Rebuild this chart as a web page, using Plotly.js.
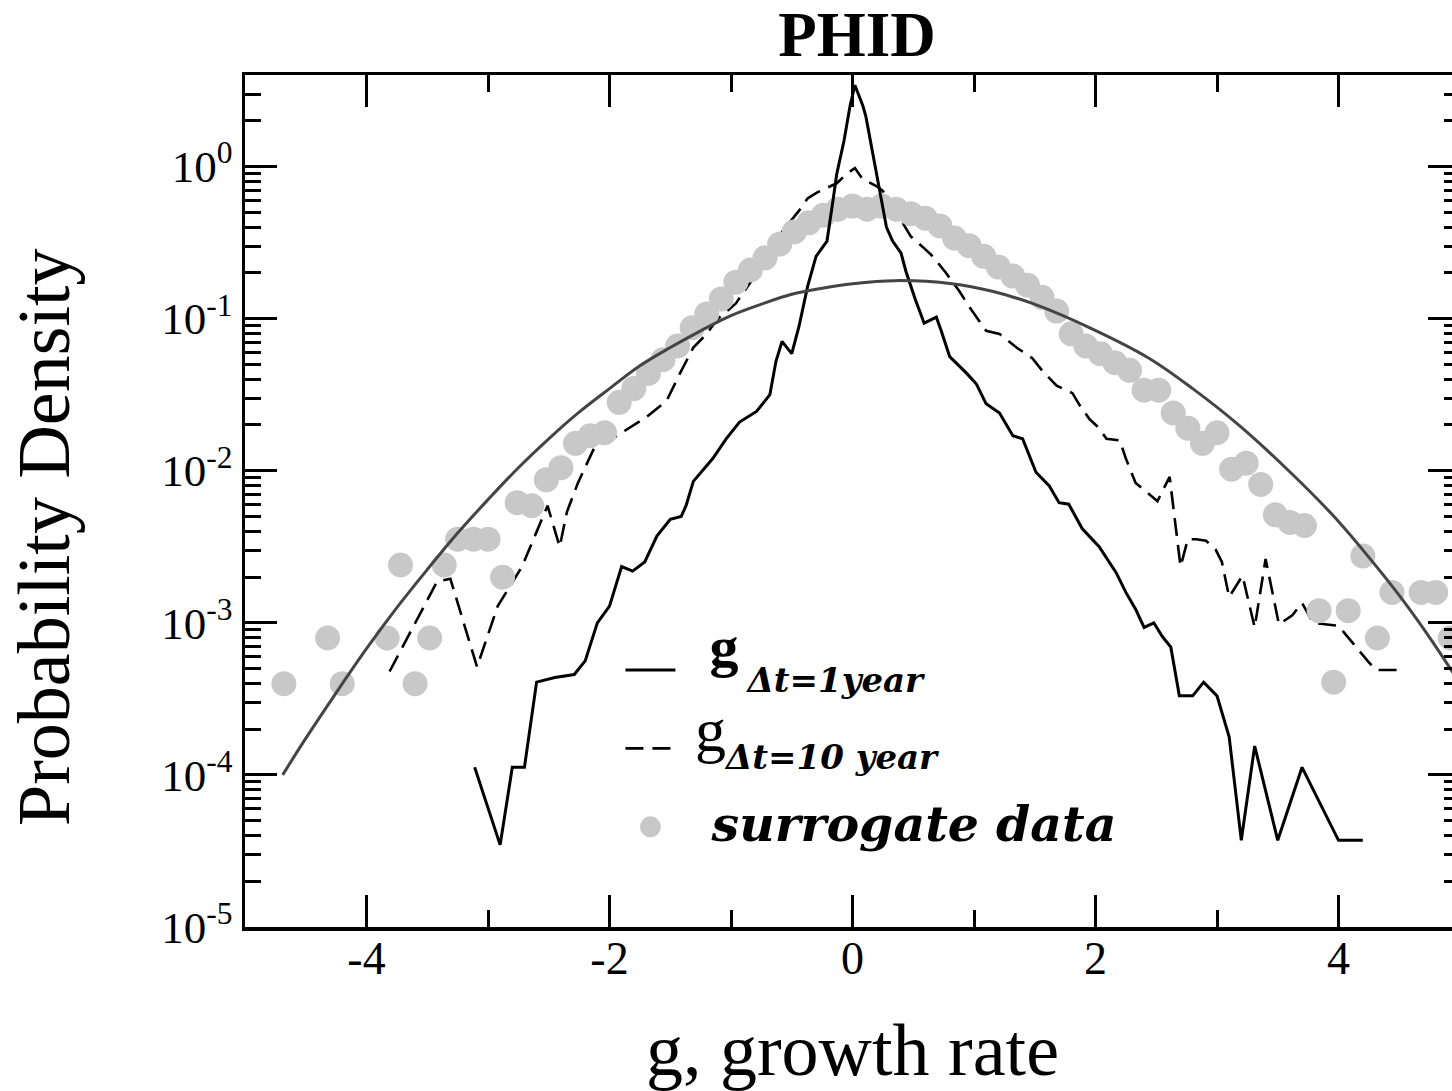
<!DOCTYPE html>
<html><head><meta charset="utf-8">
<script src="https://cdn.plot.ly/plotly-3.0.1.min.js"></script>
<style>html,body{margin:0;padding:0;overflow:hidden;background:#fff}#chart{width:1470px;height:1091px}</style>
</head><body><div id="chart"></div>
<script>
// ---- data (y given as log10 of probability density) ----
const oneYearX = [-3.11,-2.90,-2.80,-2.70,-2.60,-2.45,-2.29,-2.20,-2.10,-2.00,-1.90,-1.81,-1.71,-1.61,-1.50,-1.41,-1.37,-1.31,-1.15,-1.04,-0.93,-0.79,-0.68,-0.63,-0.58,-0.50,-0.44,-0.37,-0.30,-0.21,-0.16,-0.13,-0.07,-0.02,0.02,0.085,0.11,0.17,0.22,0.28,0.33,0.40,0.44,0.52,0.59,0.69,0.73,0.80,0.94,1.02,1.10,1.21,1.32,1.40,1.51,1.62,1.70,1.78,1.89,2.03,2.17,2.25,2.33,2.40,2.48,2.55,2.62,2.69,2.80,2.89,3.00,3.10,3.20,3.31,3.50,3.70,4.00,4.20];
const oneYearLog = [-3.95,-4.46,-3.95,-3.95,-3.39,-3.36,-3.34,-3.25,-3.00,-2.89,-2.63,-2.66,-2.60,-2.43,-2.32,-2.30,-2.23,-2.07,-1.92,-1.79,-1.68,-1.61,-1.50,-1.28,-1.15,-1.23,-1.05,-0.79,-0.59,-0.49,-0.22,-0.05,0.17,0.40,0.535,0.40,0.33,0.07,-0.13,-0.40,-0.49,-0.57,-0.69,-0.88,-1.03,-0.99,-1.08,-1.25,-1.36,-1.43,-1.56,-1.62,-1.77,-1.79,-2.01,-2.10,-2.21,-2.22,-2.38,-2.50,-2.67,-2.80,-2.91,-3.03,-3.00,-3.09,-3.16,-3.48,-3.48,-3.39,-3.48,-3.75,-4.43,-3.81,-4.43,-3.95,-4.43,-4.43];

const tenYearX = [-3.81,-3.42,-3.31,-3.09,-2.92,-2.72,-2.51,-2.41,-2.35,-2.26,-2.12,-1.98,-1.70,-1.53,-1.42,-1.31,-1.20,-1.12,-0.96,-0.80,-0.70,-0.58,-0.44,-0.37,-0.29,-0.13,-0.05,0.02,0.08,0.20,0.25,0.36,0.48,0.58,0.66,0.77,0.88,0.96,1.10,1.21,1.35,1.48,1.57,1.68,1.81,1.87,1.95,2.03,2.09,2.20,2.25,2.33,2.42,2.51,2.61,2.70,2.76,2.83,2.91,2.99,3.04,3.10,3.21,3.31,3.40,3.51,3.62,3.70,3.79,4.00,4.25,4.31,4.51];
const tenYearLog = [-3.32,-2.73,-2.71,-3.29,-2.89,-2.63,-2.23,-2.50,-2.27,-2.08,-1.84,-1.79,-1.65,-1.54,-1.36,-1.19,-1.10,-1.01,-0.90,-0.72,-0.60,-0.43,-0.29,-0.21,-0.17,-0.11,-0.05,-0.01,-0.08,-0.13,-0.16,-0.30,-0.46,-0.53,-0.59,-0.70,-0.82,-0.92,-1.08,-1.10,-1.19,-1.26,-1.35,-1.44,-1.49,-1.57,-1.66,-1.72,-1.79,-1.80,-1.92,-2.08,-2.14,-2.20,-2.04,-2.63,-2.45,-2.45,-2.46,-2.52,-2.60,-2.83,-2.69,-3.03,-2.58,-3.01,-2.95,-2.87,-3.00,-3.02,-3.26,-3.31,-3.31];

const surrogateX = [-4.68,-4.32,-4.20,-3.83,-3.72,-3.60,-3.48,-3.36,-3.25,-3.12,-3.00,-2.88,-2.76,-2.64,-2.52,-2.40,-2.28,-2.16,-2.04,-1.92,-1.80,-1.68,-1.56,-1.44,-1.32,-1.20,-1.08,-0.96,-0.84,-0.72,-0.60,-0.48,-0.36,-0.24,-0.12,0.00,0.12,0.24,0.36,0.48,0.60,0.72,0.84,0.96,1.08,1.20,1.32,1.44,1.56,1.68,1.80,1.92,2.04,2.16,2.28,2.40,2.52,2.64,2.76,2.88,3.00,3.12,3.24,3.36,3.48,3.60,3.72,3.84,3.96,4.08,4.20,4.32,4.44,4.68,4.80,4.92];
const surrogateLog = [-3.40,-3.10,-3.40,-3.10,-2.62,-3.40,-3.10,-2.62,-2.45,-2.45,-2.45,-2.70,-2.21,-2.23,-2.06,-1.98,-1.82,-1.77,-1.75,-1.55,-1.46,-1.36,-1.27,-1.18,-1.06,-0.97,-0.87,-0.76,-0.68,-0.60,-0.51,-0.43,-0.37,-0.32,-0.28,-0.26,-0.28,-0.26,-0.28,-0.31,-0.34,-0.39,-0.47,-0.52,-0.59,-0.66,-0.72,-0.78,-0.86,-0.95,-1.10,-1.18,-1.23,-1.29,-1.34,-1.47,-1.47,-1.62,-1.72,-1.82,-1.75,-1.99,-1.95,-2.09,-2.29,-2.34,-2.36,-2.92,-3.39,-2.92,-2.56,-3.10,-2.80,-2.80,-2.80,-3.10];

const fitX = [-4.69,-4.50,-4.25,-4.00,-3.75,-3.50,-3.25,-3.00,-2.75,-2.50,-2.25,-2.00,-1.75,-1.50,-1.25,-1.00,-0.75,-0.50,-0.25,0.00,0.35,0.82,1.15,1.48,1.98,2.44,2.80,3.18,3.59,3.95,4.22,4.50,4.77,5.00];
const fitLog = [-4.00,-3.76,-3.46,-3.17,-2.90,-2.65,-2.41,-2.19,-1.98,-1.79,-1.615,-1.46,-1.31,-1.19,-1.08,-0.98,-0.905,-0.84,-0.80,-0.77,-0.75,-0.77,-0.82,-0.90,-1.07,-1.26,-1.46,-1.70,-2.00,-2.29,-2.54,-2.82,-3.12,-3.40];

const xTickVals = [-4,-2,0,2,4];
const xTickText = ['-4','-2','0','2','4'];
const yTickExp = [-5,-4,-3,-2,-1,0];
const yTickText = ['10<sup>-5</sup>','10<sup>-4</sup>','10<sup>-3</sup>','10<sup>-2</sup>','10<sup>-1</sup>','10<sup>0</sup>'];

const NB = '\u00a0';
const legendNames = [
  '<span style="baseline-shift:27px">' + NB + NB + '<b>g</b><span style="font-size:36px">' + NB + '</span>' +
    '<span style="font-family:DejaVu Serif;font-size:34px;baseline-shift:-26px"><b><i>Δt=1year</i></b></span></span>',
  '<span style="baseline-shift:20px">' + NB + '<span style="font-size:62px">g</span>' +
    '<span style="font-family:DejaVu Serif;font-size:34px;baseline-shift:-18px"><b><i>Δt=10 year</i></b></span></span>',
  '<span style="font-family:DejaVu Serif;font-size:49px;baseline-shift:8px">' + NB + NB + '<b><i>surrogate data</i></b></span>'
];

// ---- build ----
const pow = a => a.map(v => Math.pow(10, v));
const serif = 'Liberation Serif, Times New Roman, serif';

const yMinor = [];
for (let k = -5; k <= 0; k++) for (let m = 2; m <= 9; m++) yMinor.push(m * Math.pow(10, k));
const xMinor = [-3,-1,1,3];

const traces = [
  {x: tenYearX, y: pow(tenYearLog), mode:'lines', name: legendNames[1], legendrank: 2,
   line:{color:'#000', width:2.6, dash:'18px,9px'}},
  {x: surrogateX, y: pow(surrogateLog), mode:'markers', name: legendNames[2], legendrank: 3,
   marker:{color:'#c8c8c8', size:20, line:{width:5, color:'#c8c8c8'}}},
  {x: oneYearX, y: pow(oneYearLog), mode:'lines', name: legendNames[0], legendrank: 1,
   line:{color:'#000', width:3}},
  {x: fitX, y: pow(fitLog), mode:'lines', showlegend:false,
   line:{color:'#444', width:3, shape:'spline', smoothing:1}}
];

const axisCommon = {
  ticks:'inside', tickwidth:3, tickcolor:'#000', ticklen:32,
  showline:true, linewidth:3.5, linecolor:'#000', mirror:'allticks',
  showgrid:false, zeroline:false, automargin:false
};

const layout = {
  width:1470, height:1091,
  margin:{l:245, r:10, t:75, b:164},
  paper_bgcolor:'#fff', plot_bgcolor:'#fff',
  title:{text:'<b>PHID</b>', font:{family:serif, size:63, color:'#000'},
         x:857/1470, xref:'container', xanchor:'center', y:1-34/1091, yref:'container', yanchor:'middle'},
  xaxis: Object.assign({}, axisCommon, {
    range:[-5,5], tickmode:'array', tickvals:xTickVals, ticktext:xTickText,
    tickfont:{family:serif, size:46, color:'#000'}, ticklabelstandoff:-12,
    minor:{tickmode:'array', tickvals:xMinor, ticks:'inside', ticklen:17, tickwidth:3, tickcolor:'#000', showgrid:false},
    title:{text:'g, growth rate', font:{family:serif, size:74, color:'#000'}, standoff:52}
  }),
  yaxis: Object.assign({}, axisCommon, {
    type:'log', range:[-5, Math.log10(4)], tickmode:'array',
    tickvals: yTickExp.map(e => Math.pow(10, e)), ticktext:yTickText,
    tickfont:{family:serif, size:45, color:'#000'},
    minor:{tickmode:'array', tickvals:yMinor, ticks:'inside', ticklen:16, tickwidth:3, tickcolor:'#000', showgrid:false}
  }),
  annotations:[
    {text:'Probability Density', textangle:-90, showarrow:false,
     xref:'paper', x:(44-245)/1215, xanchor:'center', yref:'paper', y:(927-537)/852, yanchor:'middle',
     font:{family:serif, size:74, color:'#000'}}
  ],
  legend:{x:0.309, xanchor:'left', y:0.3535, yanchor:'top', bgcolor:'rgba(0,0,0,0)',
          borderwidth:0, font:{family:serif, size:58, color:'#000'}, itemwidth:50, tracegroupgap:0},
  showlegend:true
};

Plotly.newPlot('chart', traces, layout, {displayModeBar:false, staticPlot:true});
</script></body></html>
